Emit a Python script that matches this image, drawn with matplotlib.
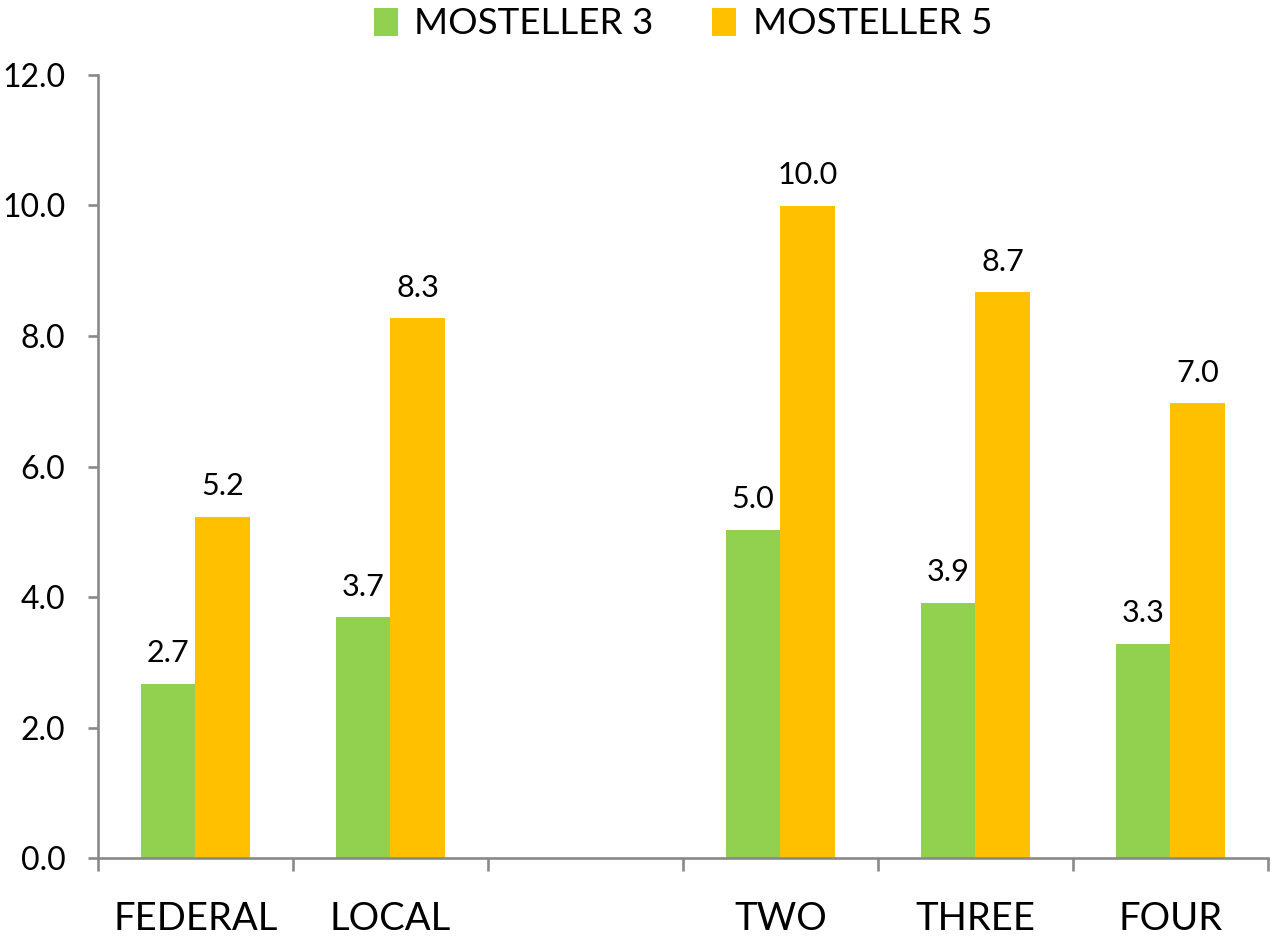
import numpy as np
import matplotlib.pyplot as plt
from matplotlib.ticker import FixedLocator

plt.rcParams['font.family'] = ['Lato', 'DejaVu Sans']

# Categories (empty slot between LOCAL and TWO)
categories = ["FEDERAL", "LOCAL", "", "TWO", "THREE", "FOUR"]

# Series values
mosteller3 = [2.67, 3.69, np.nan, 5.03, 3.91, 3.28]
mosteller5 = [5.23, 8.27, np.nan, 9.99, 8.67, 6.97]

green = "#92D050"
orange = "#FFC000"
axis_grey = "#898989"

fig = plt.figure(figsize=(12.76, 9.36), dpi=100)
ax = fig.add_axes([0.0768, 0.0833, 0.9169, 0.8366])

x = np.arange(len(categories))
w = 0.28
keep = [i for i in range(len(categories)) if categories[i] != ""]
xs = x[keep]
v3 = [mosteller3[i] for i in keep]
v5 = [mosteller5[i] for i in keep]

b3 = ax.bar(xs - w / 2, v3, w, color=green, label="MOSTELLER 3")
b5 = ax.bar(xs + w / 2, v5, w, color=orange, label="MOSTELLER 5")
ax.bar_label(b3, fmt="%.1f", padding=12, fontsize=22)
ax.bar_label(b5, fmt="%.1f", padding=12, fontsize=22)

ax.set_xlim(-0.5, len(categories) - 0.5)
ax.set_ylim(0, 12)
ax.set_yticks(np.arange(0, 12.1, 2))
ax.set_yticklabels([f"{t:.1f}" for t in np.arange(0, 12.1, 2)])

# category boundaries as major ticks, labels on minor ticks at centres
ax.xaxis.set_major_locator(FixedLocator(np.arange(-0.5, len(categories), 1)))
ax.xaxis.set_minor_locator(FixedLocator(x))
ax.set_xticklabels([""] * len(ax.get_xticks()))
ax.set_xticks(x, categories, minor=True)
ax.tick_params(axis="x", which="major", length=9, width=1.9, color=axis_grey, direction="out")
ax.tick_params(axis="x", which="minor", length=0, pad=31, labelsize=27.5)
ax.tick_params(axis="y", length=7.5, width=1.9, color=axis_grey, pad=16, labelsize=23)

for s in ["top", "right"]:
    ax.spines[s].set_visible(False)
for s in ["left", "bottom"]:
    ax.spines[s].set_color(axis_grey)
    ax.spines[s].set_linewidth(1.9)

ax.legend(loc="upper center", bbox_to_anchor=(0.5, 1.105), ncol=2, frameon=False,
          fontsize=26.5, handlelength=0.65, handleheight=0.8, handletextpad=0.45,
          columnspacing=1.6, borderaxespad=0)

fig.savefig("out.png", dpi=100)
